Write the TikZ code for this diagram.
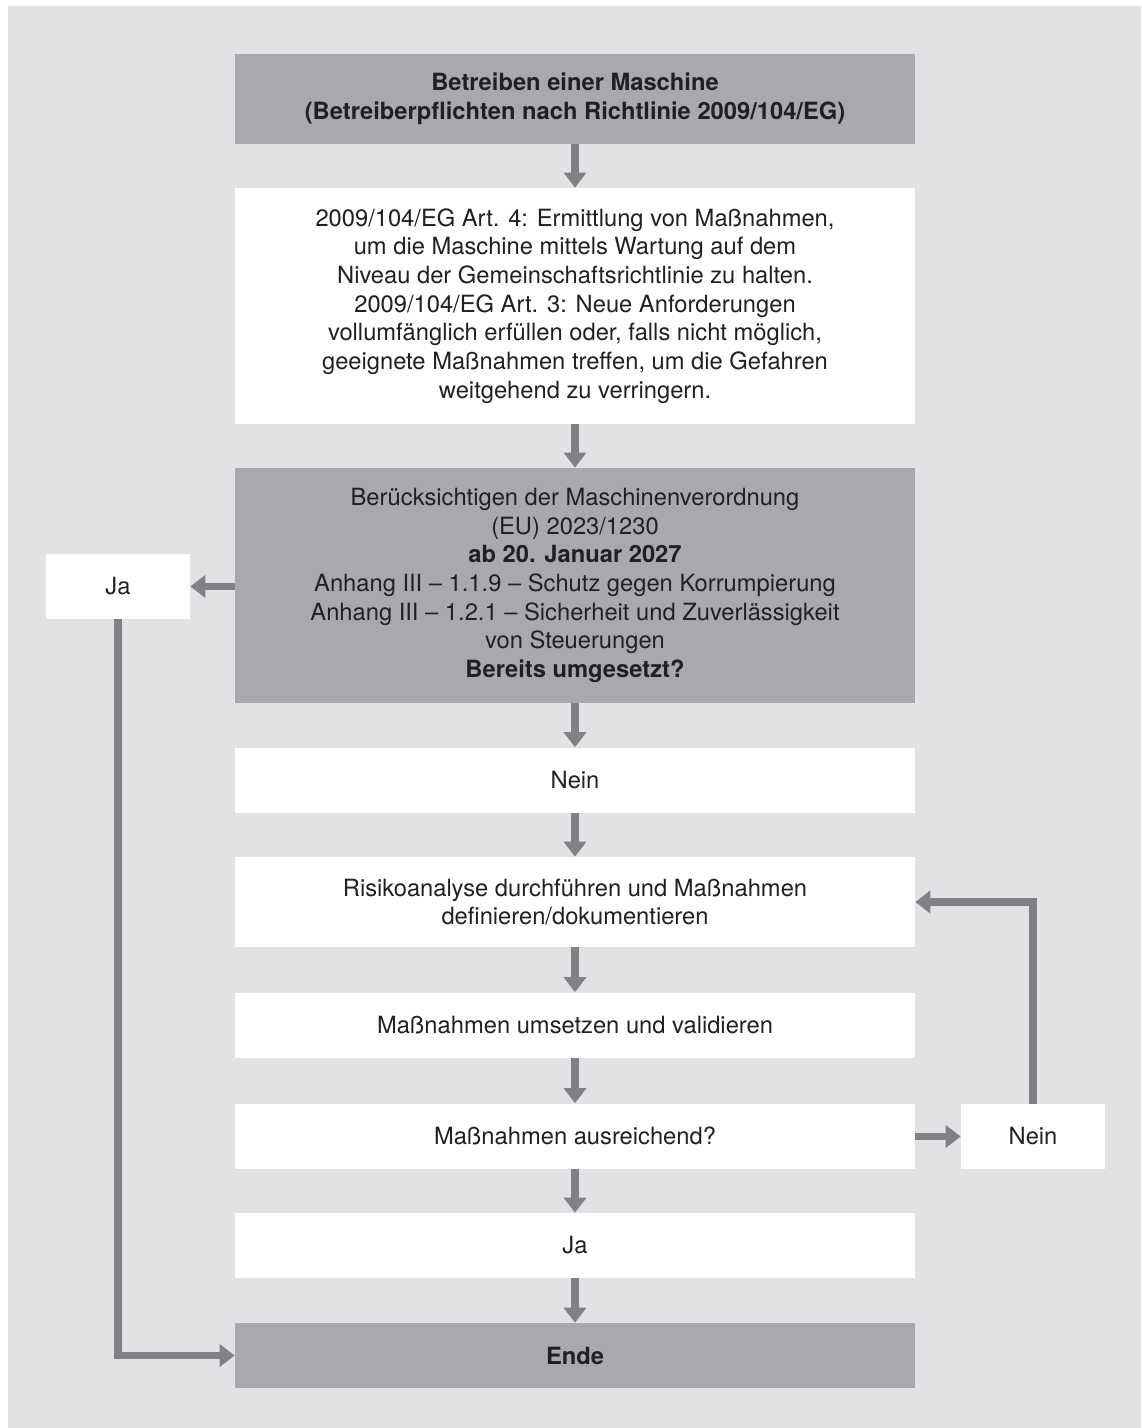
\documentclass[tikz,border=0pt]{standalone}
\usepackage{fontspec}
\setmainfont{TeX Gyre Heros}
\usetikzlibrary{arrows.meta}
\definecolor{bggray}{RGB}{225,226,228}
\definecolor{boxgray}{RGB}{168,169,173}
\definecolor{arrowgray}{RGB}{128,129,133}
\definecolor{textdark}{RGB}{35,31,32}
\begin{document}
\begin{tikzpicture}[
    box/.style={fill=white, minimum width=13.6cm, minimum height=1.3cm, inner sep=0pt, align=center, text=textdark, font=\fontsize{13.5pt}{16.3pt}\selectfont},
    darkbox/.style={box, fill=boxgray},
    sidebox/.style={box, minimum width=2.88cm},
    arr/.style={draw=arrowgray, line width=4.5pt, -{Triangle[length=0.3cm, width=0.44cm]}}
  ]
        % Background
        \useasboundingbox (0,0) rectangle (22.82,-28.56);
        \fill[bggray] (0.16,-0.12) rectangle (22.82,-28.56);

        % Main column
        \node[darkbox, minimum height=1.8cm] (start) at (11.5,-1.98) {\textbf{Betreiben einer Maschine}\\ \textbf{(Betreiberpflichten nach Richtlinie 2009/104/EG)}};
        \node[box, minimum height=4.72cm] (rules) at (11.5,-6.12) {2009/104/EG Art. 4: Ermittlung von Maßnahmen,\\ um die Maschine mittels Wartung auf dem\\ Niveau der Gemeinschaftsrichtlinie zu halten.\\ 2009/104/EG Art. 3: Neue Anforderungen\\ vollumfänglich erfüllen oder, falls nicht möglich,\\ geeignete Maßnahmen treffen, um die Gefahren\\ weitgehend zu verringern.};
        \node[darkbox, minimum height=4.7cm] (check) at (11.5,-11.71) {Berücksichtigen der Maschinenverordnung\\ (EU) 2023/1230\\ \textbf{ab 20. Januar 2027}\\ Anhang III – 1.1.9 – Schutz gegen Korrumpierung\\ Anhang III – 1.2.1 – Sicherheit und Zuverlässigkeit\\ von Steuerungen\\ \textbf{Bereits umgesetzt?}};
        \node[box] (nein1) at (11.5,-15.6) {Nein};
        \node[box, minimum height=1.8cm] (risk) at (11.5,-18.04) {Risikoanalyse durchführen und Maßnahmen\\ definieren/dokumentieren};
        \node[box] (apply) at (11.5,-20.5) {Maßnahmen umsetzen und validieren};
        \node[box] (enough) at (11.5,-22.72) {Maßnahmen ausreichend?};
        \node[box] (ja2) at (11.5,-24.91) {Ja};
        \node[darkbox] (ende) at (11.5,-27.11) {\textbf{Ende}};

        % Side boxes
        \node[sidebox] (ja1) at (2.36,-11.73) {Ja};
        \node[sidebox] (nein2) at (20.66,-22.73) {Nein};

        % Connectors
        \draw[arr] (start) -- (rules);
        \draw[arr] (rules) -- (check);
        \draw[arr] (check) -- (nein1);
        \draw[arr] (nein1) -- (risk);
        \draw[arr] (risk) -- (apply);
        \draw[arr] (apply) -- (enough);
        \draw[arr] (enough) -- (ja2);
        \draw[arr] (ja2) -- (ende);
        \draw[arr] (check.west |- ja1.east) -- (ja1.east);
        \draw[arr] (ja1.south) |- (ende.west);
        \draw[arr] (enough.east |- nein2.west) -- (nein2.west);
        \draw[arr] (nein2.north) |- (risk.east);
\end{tikzpicture}
\end{document}
